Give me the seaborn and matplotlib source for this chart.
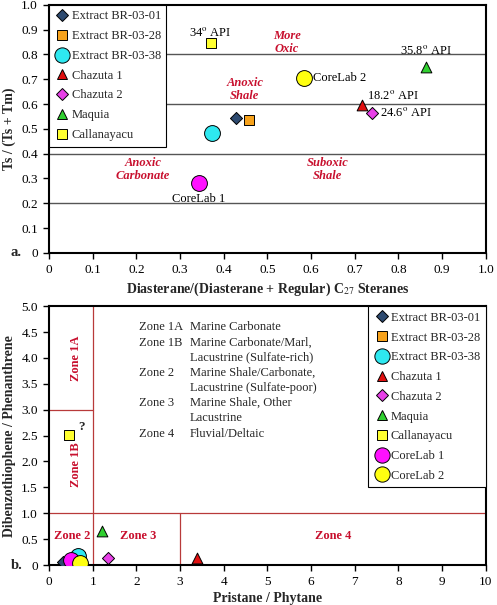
import matplotlib.pyplot as plt
import pandas as pd
import seaborn as sns
from matplotlib.lines import Line2D

# sample names and styles
samples = ['Extract BR-03-01', 'Extract BR-03-28', 'Extract BR-03-38', 'Chazuta 1',
           'Chazuta 2', 'Maquia', 'Callanayacu', 'CoreLab 1', 'CoreLab 2']
markers = ['D', 's', 'o', '^', 'D', '^', 's', 'o', 'o']
colors = ['#2d4a70', '#f7a21b', '#2ee8f0', '#e01010', '#e840e8', '#30d030',
          '#ffff30', '#ff10ff', '#ffff10']
sizes = [38, 55, 130, 60, 38, 60, 55, 130, 130]

# panel a: diasterane ratio vs Ts/(Ts+Tm)
dia_ratio = [0.428, 0.458, 0.373, 0.716, 0.739, 0.863, 0.37, 0.343, 0.583]
ts_ratio = [0.544, 0.536, 0.484, 0.597, 0.564, 0.75, 0.847, 0.282, 0.705]

# panel b: Pr/Ph vs DBT/P
pr_ph = [0.33, 0.71, 0.66, 3.39, 1.34, 1.22, 0.46, 0.50, 0.71]
dbt_p = [0.06, 0.15, 0.17, 0.13, 0.13, 0.65, 2.52, 0.10, 0.04]

df = pd.DataFrame({'sample': samples, 'marker': markers, 'color': colors, 'size': sizes,
                   'dia': dia_ratio, 'ts': ts_ratio, 'prph': pr_ph, 'dbtp': dbt_p})

sns.set_style('ticks')
plt.rcParams['font.family'] = ['Liberation Serif', 'DejaVu Serif']
plt.rcParams['mathtext.fontset'] = 'stix'
red = '#c8102e'
zone_col = '#b83a3a'

fig = plt.figure(figsize=(4.97, 6.05), dpi=100)
ax1 = fig.add_axes([0.0986, 0.582, 0.879, 0.41])
ax2 = fig.add_axes([0.0986, 0.066, 0.879, 0.428])


def draw_points(ax, xcol, ycol):
    for _, r in df.iterrows():
        sns.scatterplot(x=[r[xcol]], y=[r[ycol]], ax=ax, marker=r['marker'], color=r['color'],
                        s=r['size'], edgecolor='black', linewidth=0.7, zorder=5, legend=False)


def make_handles(n):
    hs = []
    for i in range(n):
        ms = 11 if markers[i] == 'o' else (6 if markers[i] == 'D' else 7.5)
        hs.append(Line2D([], [], linestyle='none', marker=markers[i], markerfacecolor=colors[i],
                         markeredgecolor='black', markeredgewidth=0.7, markersize=ms,
                         label=samples[i]))
    return hs


def style_axes(ax):
    for s in ax.spines.values():
        s.set_linewidth(1.5)
        s.set_color('black')
    ax.tick_params(direction='out', length=4, width=1, labelsize=9.5, colors='black', pad=4)


# ---- panel a ----
for yv in [0.2, 0.4, 0.6, 0.8]:
    ax1.axhline(yv, color='#555555', lw=1, zorder=1)
draw_points(ax1, 'dia', 'ts')
ax1.set_xlim(0, 1)
ax1.set_ylim(0, 1)
ax1.set_xticks([i / 10 for i in range(11)])
ax1.set_xticklabels(['0'] + [f'{i / 10:.1f}' for i in range(1, 11)])
ax1.set_yticks([i / 10 for i in range(11)])
ax1.set_yticklabels(['0'] + [f'{i / 10:.1f}' for i in range(1, 11)])
ax1.set_xlabel('Diasterane/(Diasterane + Regular) C$_{27}$ Steranes', fontsize=10,
               fontweight='bold', labelpad=3)
ax1.set_ylabel('Ts / (Ts + Tm)', fontsize=10, fontweight='bold', labelpad=4)
style_axes(ax1)

lbl = dict(fontsize=9, color='black', zorder=6)
ax1.text(0.37, 0.89, '34$^{\\mathrm{o}}$ API', ha='center', va='center', **lbl)
ax1.text(0.863, 0.815, '35.8$^{\\mathrm{o}}$ API', ha='center', va='center', **lbl)
ax1.text(0.728, 0.633, '18.2$^{\\mathrm{o}}$ API', ha='left', va='center', **lbl)
ax1.text(0.757, 0.565, '24.6$^{\\mathrm{o}}$ API', ha='left', va='center', **lbl)
ax1.text(0.604, 0.705, 'CoreLab 2', ha='left', va='center', **lbl)
ax1.text(0.343, 0.218, 'CoreLab 1', ha='center', va='center', **lbl)

zt = dict(fontsize=9, color=red, fontweight='bold', style='italic', ha='center',
          va='center', linespacing=1.15, zorder=6)
ax1.text(0.545, 0.847, 'More\nOxic', **zt)
ax1.text(0.448, 0.66, 'Anoxic\nShale', **zt)
ax1.text(0.215, 0.335, 'Anoxic\nCarbonate', **zt)
ax1.text(0.638, 0.335, 'Suboxic\nShale', **zt)

leg1 = ax1.legend(handles=make_handles(7), loc='upper left', fontsize=9, frameon=True,
                  fancybox=False, edgecolor='black', framealpha=1, borderaxespad=0,
                  handletextpad=0.15, labelspacing=0.62, borderpad=0.45, handlelength=1.2)
leg1.get_frame().set_linewidth(0.8)
leg1.set_zorder(10)
fig.text(0.022, 0.582, 'a.', fontsize=10.5, fontweight='bold', ha='left', va='center')

# ---- panel b ----
ax2.plot([1, 1], [0, 5], color=zone_col, lw=0.9, zorder=1)
ax2.plot([0, 1], [3, 3], color=zone_col, lw=0.9, zorder=1)
ax2.plot([0, 10], [1, 1], color=zone_col, lw=0.9, zorder=1)
ax2.plot([3, 3], [0, 1], color=zone_col, lw=0.9, zorder=1)
draw_points(ax2, 'prph', 'dbtp')
ax2.set_xlim(0, 10)
ax2.set_ylim(0, 5)
ax2.set_xticks(range(11))
ax2.set_yticks([i / 2 for i in range(11)])
ax2.set_yticklabels(['0'] + [f'{i / 2:.1f}' for i in range(1, 11)])
ax2.set_xlabel('Pristane / Phytane', fontsize=10, fontweight='bold', labelpad=3)
ax2.set_ylabel('Dibenzothiophene / Phenanthrene', fontsize=10, fontweight='bold', labelpad=4)
style_axes(ax2)

zb = dict(fontsize=9, color=red, fontweight='bold', ha='center', va='center', zorder=6)
ax2.text(0.62, 4.0, 'Zone 1A', rotation=90, **zb)
ax2.text(0.62, 1.93, 'Zone 1B', rotation=90, **zb)
ax2.text(0.52, 0.56, 'Zone 2', **zb)
ax2.text(2.04, 0.56, 'Zone 3', **zb)
ax2.text(6.5, 0.56, 'Zone 4', **zb)
ax2.text(0.66, 2.55, '?', fontsize=9.5, fontweight='bold', ha='left', va='bottom')

zone_names = ['Zone 1A', 'Zone 1B', '', 'Zone 2', '', 'Zone 3', '', 'Zone 4']
zone_desc = ['Marine Carbonate', 'Marine Carbonate/Marl,', 'Lacustrine (Sulfate-rich)',
             'Marine Shale/Carbonate,', 'Lacustrine (Sulfate-poor)', 'Marine Shale, Other',
             'Lacustrine', 'Fluvial/Deltaic']
for i, (zn, zd) in enumerate(zip(zone_names, zone_desc)):
    yy = 4.59 - i * 0.293
    ax2.text(2.06, yy, zn, fontsize=9, ha='left', va='center')
    ax2.text(3.23, yy, zd, fontsize=9, ha='left', va='center')

leg2 = ax2.legend(handles=make_handles(9), loc='upper right', fontsize=9, frameon=True,
                  fancybox=False, edgecolor='black', framealpha=1, borderaxespad=0,
                  handletextpad=0.15, labelspacing=0.62, borderpad=0.45, handlelength=1.2)
leg2.get_frame().set_linewidth(0.8)
leg2.set_zorder(10)
fig.text(0.022, 0.066, 'b.', fontsize=10.5, fontweight='bold', ha='left', va='center')

fig.savefig('out.png', dpi=100)
